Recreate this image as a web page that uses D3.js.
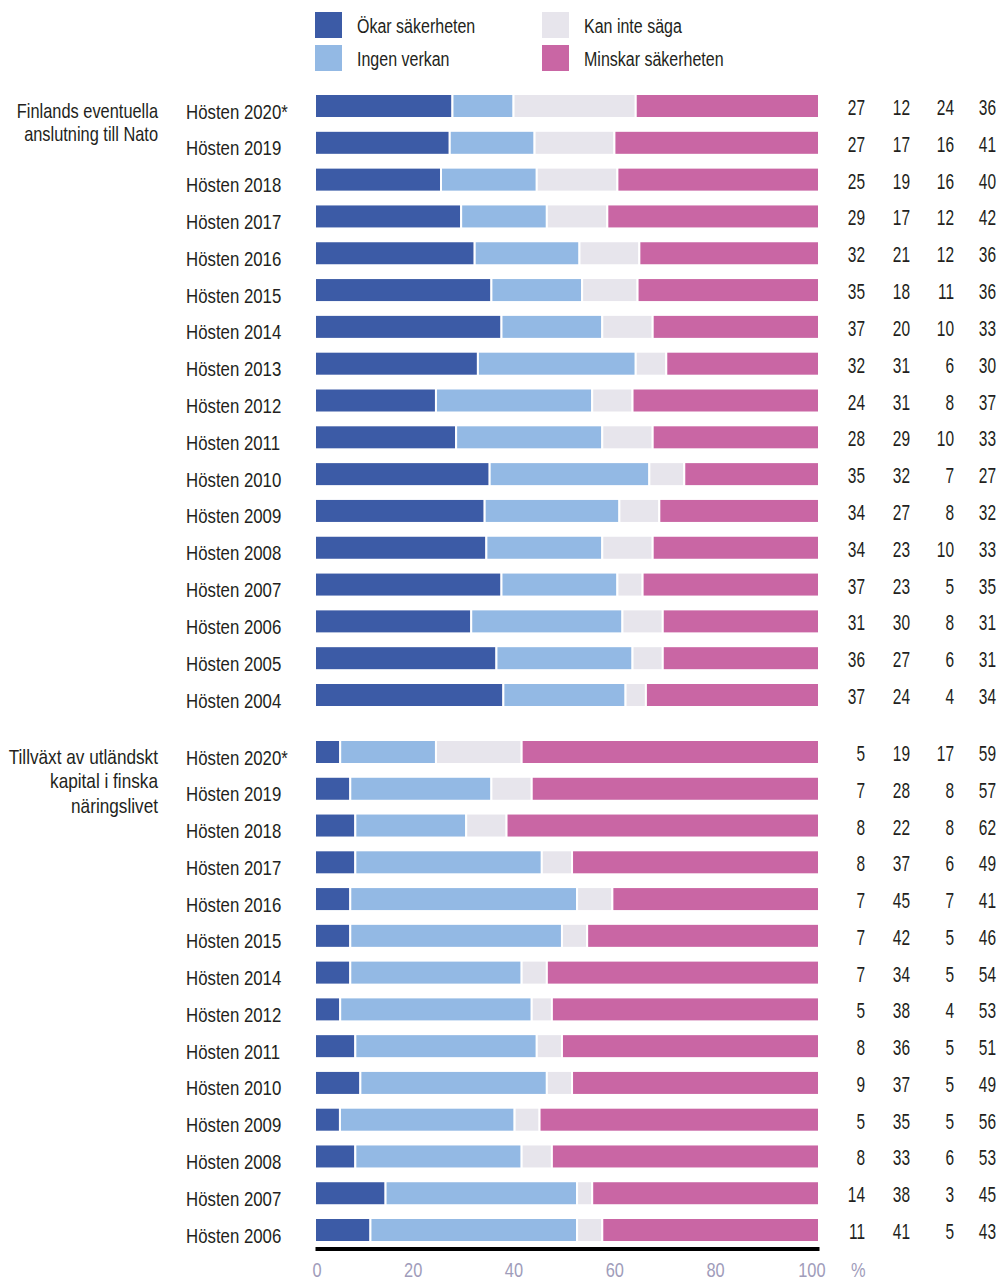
<!DOCTYPE html>
<html><head><meta charset="utf-8">
<script src="https://cdn.jsdelivr.net/npm/d3@7"></script>
<style>
html,body{margin:0;padding:0;background:#fff;}
svg{display:block;font-family:"Liberation Sans",Arial,sans-serif;}
</style></head>
<body><svg id="c" width="1000" height="1280"></svg>
<script>
const seriesNames = ["Ökar säkerheten","Ingen verkan","Kan inte säga","Minskar säkerheten"];
const seriesColors = ["#3c5ba6","#93b9e4","#e7e5ec","#c966a4"];

const group1Label = ["Finlands eventuella","anslutning till Nato"];
const group1Cats = ["Hösten 2020*","Hösten 2019","Hösten 2018","Hösten 2017","Hösten 2016","Hösten 2015","Hösten 2014","Hösten 2013","Hösten 2012","Hösten 2011","Hösten 2010","Hösten 2009","Hösten 2008","Hösten 2007","Hösten 2006","Hösten 2005","Hösten 2004"];
const group1Okar   = [27,27,25,29,32,35,37,32,24,28,35,34,34,37,31,36,37];
const group1Ingen  = [12,17,19,17,21,18,20,31,31,29,32,27,23,23,30,27,24];
const group1Kan    = [24,16,16,12,12,11,10,6,8,10,7,8,10,5,8,6,4];
const group1Minsk  = [36,41,40,42,36,36,33,30,37,33,27,32,33,35,31,31,34];

const group2Label = ["Tillväxt av utländskt","kapital i finska","näringslivet"];
const group2Cats = ["Hösten 2020*","Hösten 2019","Hösten 2018","Hösten 2017","Hösten 2016","Hösten 2015","Hösten 2014","Hösten 2012","Hösten 2011","Hösten 2010","Hösten 2009","Hösten 2008","Hösten 2007","Hösten 2006"];
const group2Okar   = [5,7,8,8,7,7,7,5,8,9,5,8,14,11];
const group2Ingen  = [19,28,22,37,45,42,34,38,36,37,35,33,38,41];
const group2Kan    = [17,8,8,6,7,5,5,4,5,5,5,6,3,5];
const group2Minsk  = [59,57,62,49,41,46,54,53,51,49,56,53,45,43];

const xTicks = [0,20,40,60,80,100];

const svg = d3.select("#c");
const x = d3.scaleLinear().domain([0,100]).range([315,819]);
const textColor = "#231f20";
const axisColor = "#a09cba";
const barH = 24;
const valueRight = [865,910,954,996];
const SX = 0.82;

function txt(parent, tx, ty, str, opts) {
  opts = opts || {};
  return parent.append("text")
    .attr("transform", `translate(${tx},${ty}) scale(${opts.sx||SX},1)`)
    .attr("text-anchor", opts.anchor || "start")
    .attr("font-size", opts.size || 20)
    .attr("fill", opts.color || textColor)
    .text(str);
}

function drawGroup(cats, series, label, yRange, lineGap, labelSx) {
  const y = d3.scalePoint().domain(cats).range(yRange);
  const g = svg.append("g");
  label.forEach((l,i) => txt(g, 158, yRange[0] + 11.5 + i*lineGap, l, {anchor:"end", sx:labelSx}));
  cats.forEach((c,i) => {
    const vals = series.map(s=>s[i]);
    const total = d3.sum(vals);
    let cum = 0;
    const segs = vals.map((v,k)=>{ const s={k, v, x0:cum/total*100, x1:(cum+v)/total*100}; cum+=v; return s; });
    const cy = y(c);
    g.selectAll(null).data(segs).join("rect")
      .attr("x",d=>x(d.x0)).attr("width",d=>x(d.x1)-x(d.x0))
      .attr("y",cy-barH/2).attr("height",barH)
      .attr("fill",d=>seriesColors[d.k]).attr("stroke","#fff").attr("stroke-width",2);
    txt(g, 186, cy+12.5, c, {size:20.5});
    vals.forEach((v,k) => txt(g, valueRight[k], cy+9, v, {anchor:"end", size:21.5, sx:0.72}));
  });
}

drawGroup(group1Cats,[group1Okar,group1Ingen,group1Kan,group1Minsk],group1Label,[106,695],23,0.82);
drawGroup(group2Cats,[group2Okar,group2Ingen,group2Kan,group2Minsk],group2Label,[752,1230],24.5,0.86);

// legend
const legPos = [[315,12],[315,45],[542,12],[542,45]];
const leg = svg.append("g");
seriesNames.forEach((n,k)=>{
  const [lx,ly] = legPos[k];
  leg.append("rect").attr("x",lx).attr("y",ly).attr("width",27).attr("height",26).attr("fill",seriesColors[k]);
  txt(leg, lx+42, ly+21, n, {size:20, sx:0.8});
});

// axis
const axis = d3.axisBottom(x).tickValues(xTicks).tickSize(0).tickSizeOuter(0).tickPadding(14);
const ag = svg.append("g").attr("transform","translate(0,1248.5)").call(axis);
ag.select(".domain").attr("stroke","#000").attr("stroke-width",4);
ag.selectAll(".tick text").attr("font-size",20).attr("fill",axisColor)
  .attr("font-family",'"Liberation Sans",Arial,sans-serif')
  .attr("text-anchor","end").attr("x",0)
  .attr("transform",`translate(6,0) scale(${SX},1)`);
txt(svg, 851, 1276.5, "%", {size:20, color:axisColor});
</script></body></html>
